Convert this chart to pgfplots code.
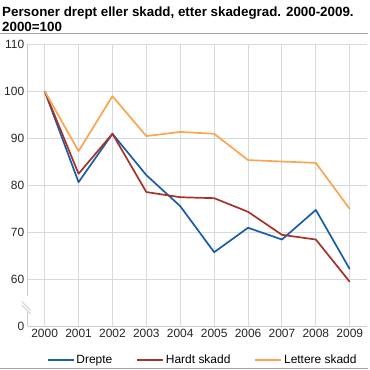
\documentclass[border=0pt]{standalone}
\usepackage{pgfplots}
\pgfplotsset{compat=1.18}
\usepackage{fontspec}
\setmainfont{Liberation Sans}
\definecolor{cblue}{RGB}{26,94,168}
\definecolor{cred}{RGB}{166,50,40}
\definecolor{corange}{RGB}{250,166,80}
\definecolor{cgrid}{RGB}{214,217,223}
\definecolor{caxis}{RGB}{200,204,212}
\definecolor{crule}{RGB}{165,165,165}
\begin{document}
\begin{tikzpicture}[x=1bp,y=1bp]
\useasboundingbox (0,0) rectangle (370,-370);
\node[anchor=base west, inner sep=0, font=\fontsize{13.4}{15}\selectfont\bfseries] at (2,-16) {Personer drept eller skadd, etter skadegrad. 2000-2009.};
\node[anchor=base west, inner sep=0, font=\fontsize{13.4}{15}\selectfont\bfseries] at (2,-31) {2000=100};
\draw[crule, line width=1.2bp] (0,-33.5) -- (368,-33.5);
\draw[crule, line width=1.2bp] (0,-368.5) -- (368,-368.5);
\begin{axis}[
  at={(27.7bp,-326bp)}, anchor=south west,
  scale only axis, width=339bp, height=282bp,
  xmin=1999.5, xmax=2009.5, ymin=50, ymax=110,
  xtick={2000,2001,2002,2003,2004,2005,2006,2007,2008,2009},
  xticklabels={2000,2001,2002,2003,2004,2005,2006,2007,2008,2009},
  ytick={50,60,70,80,90,100,110},
  yticklabels={0,60,70,80,90,100,110},
  /pgf/number format/assume math mode=true,
  tick label style={font=\fontsize{12}{14}\selectfont, text=black!85},
  major tick length=0pt,
  grid=major,
  major grid style={cgrid, line width=1bp},
  axis x line*=bottom, axis y line*=left,
  axis line style={caxis, line width=1bp, -},
  clip=false,
  legend columns=3,
  legend style={draw=none, fill=none, at={(0.516,-0.1206)}, anchor=center,
    font=\fontsize{12}{14}\selectfont,
    /tikz/every even column/.append style={column sep=22bp}},
  legend image code/.code={\draw[#1] (0bp,0bp) -- (26bp,0bp);},
  every axis plot/.append style={line width=1.7bp, line join=round},
]
\addplot[cblue] coordinates {(2000,100) (2001,80.6) (2002,90.9) (2003,82.1) (2004,75.5) (2005,65.7) (2006,70.9) (2007,68.4) (2008,74.7) (2009,62.1)};
\addlegendentry{Drepte}
\addplot[cred] coordinates {(2000,100) (2001,82.4) (2002,90.9) (2003,78.5) (2004,77.4) (2005,77.2) (2006,74.3) (2007,69.4) (2008,68.4) (2009,59.4)};
\addlegendentry{Hardt skadd}
\addplot[corange] coordinates {(2000,100) (2001,87.2) (2002,98.9) (2003,90.4) (2004,91.3) (2005,90.9) (2006,85.3) (2007,85.0) (2008,84.7) (2009,74.9)};
\addlegendentry{Lettere skadd}
\coordinate (ga) at (axis cs:1999.5,53.0);
\coordinate (gb) at (axis cs:1999.5,56.4);
\end{axis}
\fill[white] ([xshift=-2bp]ga) rectangle ([xshift=2bp]gb);
\draw[caxis, line width=1bp] ([xshift=-6bp,yshift=7bp]ga) -- ([xshift=3bp,yshift=-2bp]ga);
\draw[caxis, line width=1bp] ([xshift=-6bp,yshift=10.5bp]ga) -- ([xshift=3bp,yshift=1.5bp]ga);
\end{tikzpicture}
\end{document}
